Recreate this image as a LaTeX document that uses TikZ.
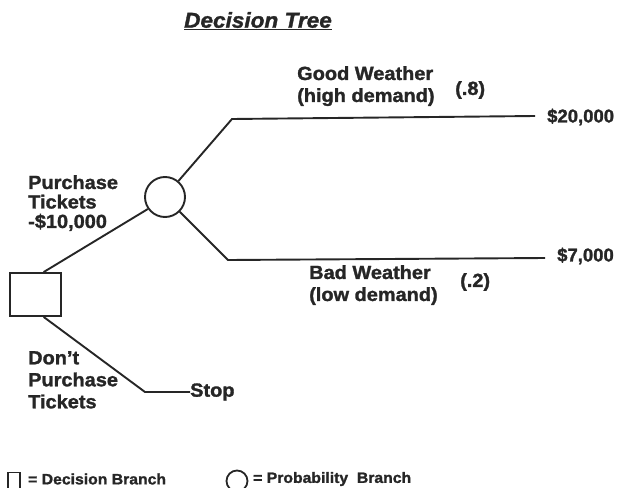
\documentclass[tikz,border=0pt]{standalone}
\usepackage{fontspec}
\setmainfont{Liberation Sans}[FakeStretch=1.05, BoldFeatures={FakeBold=1.5}, BoldItalicFeatures={FakeBold=1.5}]
\newfontfamily\numfont{Liberation Sans}[BoldFeatures={FakeBold=1.5}]
\begin{document}
\begin{tikzpicture}[x=1pt,y=-1pt,
  lbl/.style={font=\fontsize{19}{22}\selectfont\bfseries, align=left, inner sep=0pt, text=black!85},
  num/.style={font=\numfont\fontsize{18.5}{22}\selectfont\bfseries, inner sep=0pt, text=black!85, anchor=west},
  leg/.style={font=\fontsize{15}{17}\selectfont\bfseries, inner sep=0pt, anchor=west, text=black!85},
  br/.style={line width=1.9pt, black!85},
  decbox/.style={draw=black!85, line width=1.9pt, minimum width=51pt, minimum height=43pt, inner sep=0pt},
  probcirc/.style={draw=black!85, line width=1.9pt, circle, minimum size=40pt, inner sep=0pt}]
\useasboundingbox (0,0) rectangle (617,487);
\node[font=\fontsize{21.5}{22}\selectfont\bfseries\itshape, inner sep=0pt, text=black!85] (title) at (258,21) {\underline{Decision Tree}};
\node[decbox] (sq) at (35.5,294.5) {};
\node[probcirc] (circ) at (165,197) {};
\coordinate (ub) at (232,119);
\coordinate (ue) at (535,116);
\coordinate (lb) at (228,260);
\coordinate (le) at (545,258);
\coordinate (sb) at (145,392);
\node[lbl, anchor=west] (stop) at (190,392) {Stop};
\node[num] (v20) at (547,117) {\$20,000};
\node[num] (v7) at (557,256) {\$7,000};
\node[lbl, anchor=north west] (good) at (297,66) {Good Weather\\(high demand)};
\node[lbl, anchor=west] (p8) at (455,90) {(.8)};
\node[lbl, anchor=north west] (bad) at (309,265) {Bad Weather\\(low demand)};
\node[lbl, anchor=west] (p2) at (460,282) {(.2)};
\node[lbl, anchor=north west, font=\fontsize{19}{19.5}\selectfont\bfseries] (buy) at (28,175) {Purchase\\Tickets\\-\$10,000};
\node[lbl, anchor=north west, font=\fontsize{19}{22}\selectfont\bfseries] (nobuy) at (28,351) {Don't\\Purchase\\Tickets};
\draw[br] (sq.70) -- (circ.215);
\draw[br] (sq.290) -- (sb) -- (stop.west);
\draw[br] (circ.50) -- (ub) -- (ue);
\draw[br] (circ.-45) -- (lb) -- (le);
\node[draw=black!85, line width=1.5pt, minimum width=12pt, minimum height=17pt, inner sep=0pt] (lsq) at (14,481) {};
\node[leg] (ldec) at (28,479) {= Decision Branch};
\node[draw=black!85, line width=1.8pt, circle, minimum size=21pt, inner sep=0pt] (lcirc) at (237,481) {};
\node[leg] (lprob) at (253,479) {= Probability\ \ Branch};
\end{tikzpicture}
\end{document}
